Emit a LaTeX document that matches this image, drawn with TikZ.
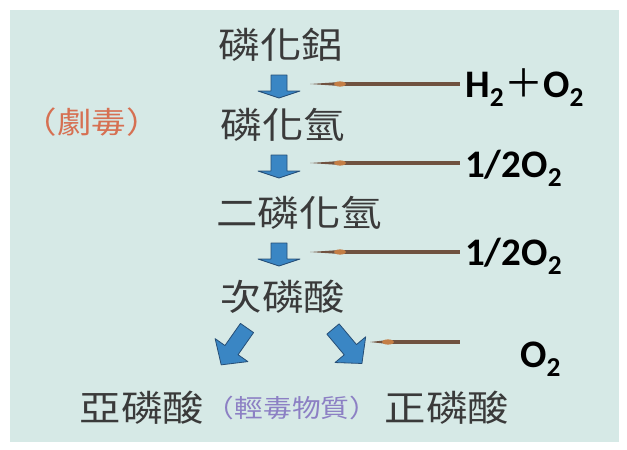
\documentclass[tikz,border=0pt]{standalone}
\usepackage{fontspec}
\newfontfamily\cjk[FakeStretch=1.15]{Noto Sans CJK TC}
\newfontfamily\cjkplain{Noto Sans CJK TC}
\setmainfont{Carlito}
\definecolor{bgc}{RGB}{214,233,230}
\definecolor{txt}{RGB}{58,58,58}
\definecolor{toxicc}{RGB}{214,112,82}
\definecolor{lightc}{RGB}{140,128,196}
\definecolor{ablue}{RGB}{58,134,196}
\definecolor{aline}{RGB}{38,78,118}
\definecolor{brownc}{RGB}{112,82,64}
\definecolor{beadc}{RGB}{196,126,70}
\tikzset{
  chem/.style={inner sep=0pt, text=txt, font=\cjk\fontsize{36}{40}\selectfont},
  toxic/.style={inner sep=0pt, text=toxicc, font=\cjk\fontsize{30}{34}\selectfont},
  mild/.style={inner sep=0pt, text=lightc, font=\cjk\fontsize{25}{29}\selectfont},
  lab/.style={inner sep=0pt, anchor=base west, text=black, font=\bfseries\fontsize{39}{43}\selectfont},
  downarrow/.pic={\draw[fill=ablue, draw=aline, line width=0.8pt, line join=round]
     (-8,0) -- (8,0) -- (8,16) -- (21,16) -- (0,23) -- (-21,16) -- (-8,16) -- cycle;},
  diagarrow/.pic={\draw[fill=ablue, draw=aline, line width=0.8pt, line join=round]
     (-8,0) -- (8,0) -- (8,27) -- (20,27) -- (0,45) -- (-20,27) -- (-8,27) -- cycle;},
  wire/.style={draw=brownc, line width=4pt},
}
\newcommand{\reagentline}[3]{% tip, bead, end
  \fill[brownc] (#1) -- ([yshift=2pt]#2) -- ([yshift=-2pt]#2) -- cycle;
  \draw[wire] (#2) -- (#3);
  \fill[beadc] (#2) ellipse (6pt and 2.6pt);
}
\begin{document}
\begin{tikzpicture}[x=1pt,y=-1pt]
\useasboundingbox (0,0) rectangle (627,450);
\fill[white] (0,0) rectangle (627,450);
\fill[bgc] (10,10) rectangle (619,442);
% chemical nodes
\node[chem] (a) at (281,45) {磷化鋁};
\node[chem] (b) at (283,125) {磷化氫};
\node[chem] (c) at (299,213) {二磷化氫};
\node[chem] (d) at (283,297) {次磷酸};
\node[chem] (e) at (142,408) {亞磷酸};
\node[mild] (f) at (292,408) {（輕毒物質）};
\node[chem] (g) at (447,408) {正磷酸};
\node[toxic] (h) at (92,122) {（劇毒）};
% reagent labels
\node[lab] (r1) at (465,97) {H\textsubscript{2}{\cjkplain\mdseries ＋}O\textsubscript{2}};
\node[lab] (r2) at (465,177) {1/2O\textsubscript{2}};
\node[lab] (r3) at (465,265) {1/2O\textsubscript{2}};
\node[lab] (r4) at (520,367) {O\textsubscript{2}};
% block arrows
\pic at (279,75) {downarrow};
\pic at (279,155) {downarrow};
\pic at (279,243) {downarrow};
\pic[rotate=-35] at (247,328) {diagarrow};
\pic[rotate=40] at (333,329) {diagarrow};
% reagent lines
\coordinate (t1) at (310,84);  \coordinate (m1) at (340,84);  \coordinate (s1) at (460,84);
\coordinate (t2) at (310,163); \coordinate (m2) at (340,163); \coordinate (s2) at (460,163);
\coordinate (t3) at (310,252); \coordinate (m3) at (340,252); \coordinate (s3) at (460,252);
\coordinate (t4) at (370,342); \coordinate (m4) at (388,342); \coordinate (s4) at (460,342);
\reagentline{t1}{m1}{s1}
\reagentline{t2}{m2}{s2}
\reagentline{t3}{m3}{s3}
\reagentline{t4}{m4}{s4}
\end{tikzpicture}
\end{document}
